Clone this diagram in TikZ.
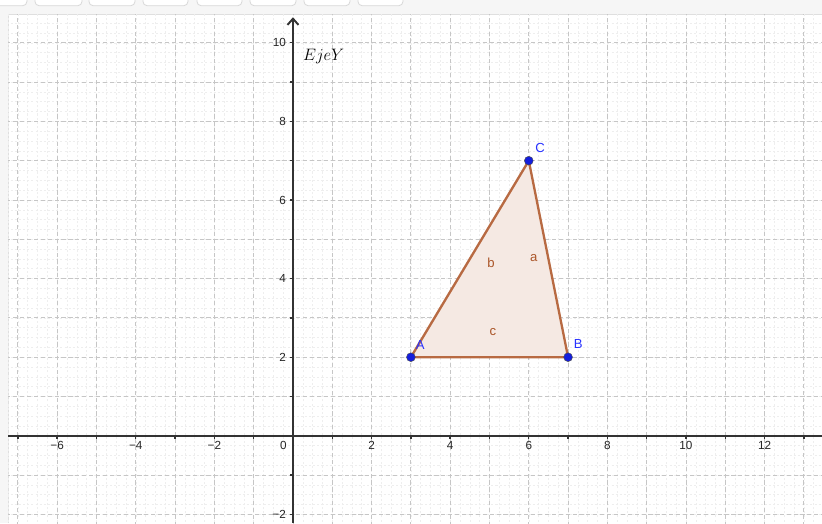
\documentclass[tikz,border=0pt]{standalone}
\usepackage{fontspec}
\setsansfont{Liberation Sans}
\usetikzlibrary{arrows.meta}
\definecolor{triedge}{RGB}{184,106,66}
\definecolor{trifill}{RGB}{245,233,227}
\definecolor{ptblue}{RGB}{20,30,220}
\definecolor{lblblue}{RGB}{40,50,255}
\definecolor{sidelbl}{RGB}{170,85,40}
\tikzset{
  ticklbl/.style={font=\sffamily\fontsize{8.5}{10}\selectfont, text=black!85, inner sep=1pt},
  ptlbl/.style={font=\sffamily\fontsize{9.5}{11}\selectfont, text=lblblue, inner sep=0pt},
  sidelabel/.style={font=\sffamily\fontsize{9.5}{11}\selectfont, text=sidelbl, inner sep=0pt},
  ptdot/.style={circle, fill=ptblue, draw=black!70, line width=0.3pt, minimum size=6.4pt, inner sep=0pt},
  axisline/.style={line width=1.5pt, draw=black!80},
  toolbtn/.style={draw=gray!30, fill=white, rounded corners=3pt, line width=0.6pt}
}
\begin{document}
\begin{tikzpicture}[x=1cm,y=1cm]
\useasboundingbox (-7.455,-2.219) rectangle (13.461,11.089);
\clip (-7.455,-2.219) rectangle (13.461,11.089);
\fill[white] (-7.455,-2.219) rectangle (13.461,11.089);
% toolbar strip and left strip
\fill[gray!7] (-7.455,10.73) rectangle (13.461,11.089);
\fill[gray!7] (-7.455,-2.219) rectangle (-7.25,10.73);
\draw[gray!25, line width=0.5pt] (-7.25,-2.219) -- (-7.25,10.73) -- (13.461,10.73);
\foreach \a/\b in {-7.96/-6.77,-6.565/-5.369,-5.191/-4.020,-3.817/-2.672,-2.443/-1.298,-1.094/0.076,0.280/1.450,1.654/2.799}
  \draw[toolbtn] (\a,10.944) rectangle (\b,11.4);
% grid
\begin{scope}
\clip (-7.25,-2.219) rectangle (13.461,10.73);
\draw[gray!13, line width=0.4pt, dash pattern=on 1.5pt off 1.5pt] (-7.5,-2.5) grid[step=0.25] (14,11);
\draw[gray!45, line width=0.6pt, dash pattern=on 3pt off 2pt] (-8,-3) grid[step=1] (14,11);
\end{scope}
% axes
\coordinate (xl) at (-7.25,0);
\coordinate (xr) at (13.461,0);
\coordinate (yb) at (0,-2.219);
\coordinate (yt) at (0,10.65);
\draw[axisline] (xl) -- (xr);
\draw[axisline, -{Straight Barb[length=4.5pt,width=8pt,line width=1.4pt]}] (yb) -- (yt);
\foreach \i in {-7,...,-1,1,2,...,13}
  \draw[black!80, line width=1pt] (\i,0) -- (\i,-0.08);
\foreach \j in {-2,-1,1,2,...,10}
  \draw[black!80, line width=1pt] (0,\j) -- (-0.08,\j);
\foreach \i/\t in {-6/−6,-4/−4,-2/−2,2/2,4/4,6/6,8/8,10/10,12/12}
  \node[ticklbl, anchor=north] (xlab\i) at (\i,-0.1) {\t};
\node[ticklbl, anchor=north east] (zlab) at (-0.12,-0.1) {0};
\foreach \j/\t in {-2/−2,2/2,4/4,6/6,8/8,10/10}
  \node[ticklbl, anchor=east] (ylab\j) at (-0.14,\j) {\t};
\node[anchor=west, inner sep=0pt, font=\fontsize{13}{15}\selectfont] (ejey) at (0.25,9.64) {$EjeY$};
% triangle
\coordinate (A) at (3,2);
\coordinate (B) at (7,2);
\coordinate (C) at (6,7);
\fill[trifill] (A) -- (B) -- (C) -- cycle;
\draw[triedge, line width=1.7pt, line join=round] (A) -- (B) -- (C) -- cycle;
\node[ptdot] (dA) at (A) {};
\node[ptdot] (dB) at (B) {};
\node[ptdot] (dC) at (C) {};
\node[ptlbl] (lA) at (3.24,2.31) {A};
\node[ptlbl] (lB) at (7.26,2.33) {B};
\node[ptlbl] (lC) at (6.29,7.32) {C};
\node[sidelabel] (la) at (6.13,4.52) {a};
\node[sidelabel] (lb) at (5.04,4.40) {b};
\node[sidelabel] (lc) at (5.09,2.64) {c};
\end{tikzpicture}
\end{document}
